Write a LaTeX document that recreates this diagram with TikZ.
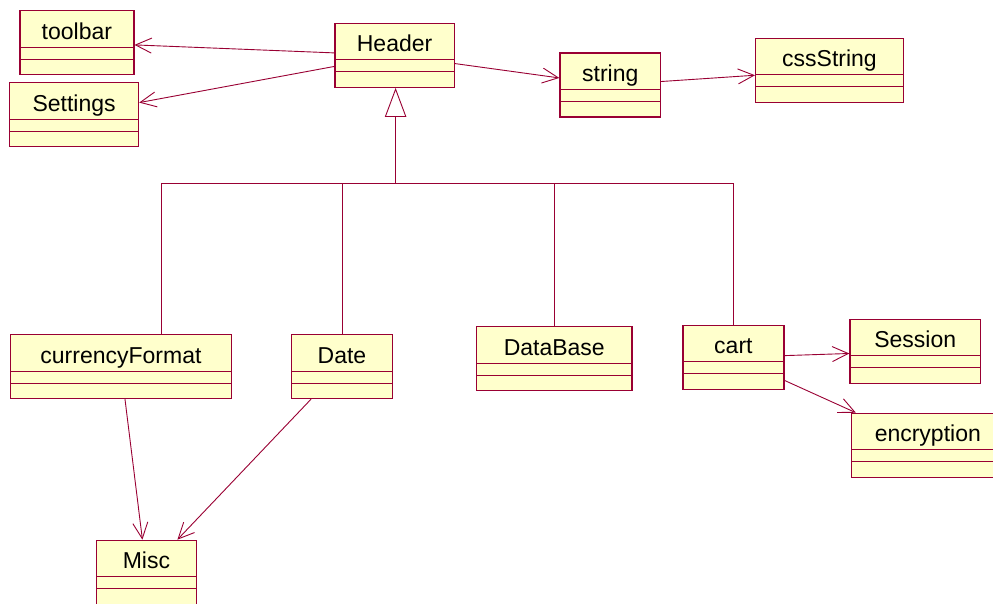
\documentclass[tikz,border=0pt]{standalone}
\usepackage{fontspec}
\setmainfont{Liberation Sans}
\usetikzlibrary{arrows.meta}
\definecolor{umlred}{RGB}{153,0,51}
\definecolor{umlfill}{RGB}{255,255,204}
\tikzstyle{umlclass} = [rectangle, anchor=north west, draw=umlred, line width=1.2pt, fill=umlfill, inner xsep=0pt, inner ysep=0pt, text height=28.5pt, text depth=35.5pt, font=\fontsize{23}{27}\selectfont, path picture={
    \draw [umlred, line width=0.8pt] ([yshift=-36.5pt]path picture bounding box.north west) -- ([yshift=-36.5pt]path picture bounding box.north east);
    \draw [umlred, line width=0.8pt] ([yshift=-48.5pt]path picture bounding box.north west) -- ([yshift=-48.5pt]path picture bounding box.north east);}]
\tikzstyle{arrow} = [umlred, line width=0.9pt, -{Straight Barb[length=16pt, width=15pt, line width=0.9pt]}]
\tikzstyle{inherit} = [umlred, line width=0.9pt, -{Triangle[length=29pt, width=21.4pt, fill=white, line width=0.9pt]}]
\tikzstyle{tree} = [umlred, line width=0.9pt]

\begin{document}
\begin{tikzpicture}[x=1pt, y=-1pt]
        \path [use as bounding box, clip] (0,0) rectangle (993,603);

        \node (toolbar) [umlclass, minimum width=114pt] at (19.3,10) {toolbar};
        \node (settings) [umlclass, minimum width=129pt] at (9,82) {Settings};
        \node (header) [umlclass, minimum width=119.4pt] at (334.3,22.7) {Header};
        \node (string) [umlclass, minimum width=100.7pt] at (559.3,52.3) {string};
        \node (cssstring) [umlclass, minimum width=147.7pt] at (755,37.7) {cssString};
        \node (currency) [umlclass, minimum width=220.7pt] at (10,334) {currencyFormat};
        \node (date) [umlclass, minimum width=100.7pt] at (291,334) {Date};
        \node (database) [umlclass, minimum width=155.3pt] at (476,326) {DataBase};
        \node (cart) [umlclass, minimum width=101pt] at (682.3,324.7) {cart};
        \node (session) [umlclass, minimum width=130.7pt] at (849.3,318.7) {Session};
        \node (encryption) [umlclass, minimum width=153pt] at (850.7,412.7) {encryption};
        \node (misc) [umlclass, minimum width=100.3pt] at (95.7,539.7) {Misc};

        % generalization tree
        \coordinate (fork) at ([xshift=1pt]header.south |- 0,183);
        \draw [inherit] (fork) -- ([xshift=1pt]header.south);
        \draw [tree] (fork) -| ([xshift=40.7pt]currency.north);
        \draw [tree] (fork) -| (date.north);
        \draw [tree] (fork) -| (database.north);
        \draw [tree] (fork) -| (cart.north);

        \draw [arrow] (header) -- (toolbar);
        \draw [arrow] (header) -- (settings);
        \draw [arrow] (header) -- (string);
        \draw [arrow] (string) -- (cssstring);
        \draw [arrow] (cart) -- (session);
        \draw [arrow] (cart) -- (encryption);
        \draw [arrow] (currency) -- (misc);
        \draw [arrow] (date) -- (misc);
    \end{tikzpicture}
\end{document}
